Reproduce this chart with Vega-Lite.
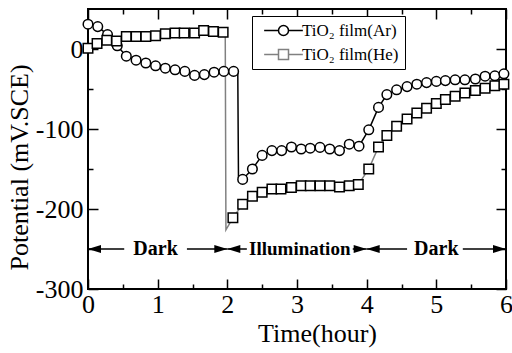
{
  "$schema": "https://vega.github.io/schema/vega-lite/v6.json",
  "width": 418,
  "height": 280,
  "autosize": "none",
  "padding": {"left": 88, "top": 9, "right": 6, "bottom": 64},
  "background": "white",
  "datasets": {
    "pot": [
      {"t": 0, "v": 31, "s": "TiO₂ film(Ar)", "m": 1},
      {"t": 0.14, "v": 28, "s": "TiO₂ film(Ar)", "m": 1},
      {"t": 0.28, "v": 18, "s": "TiO₂ film(Ar)", "m": 1},
      {"t": 0.42, "v": 4, "s": "TiO₂ film(Ar)", "m": 1},
      {"t": 0.55, "v": -9, "s": "TiO₂ film(Ar)", "m": 1},
      {"t": 0.69, "v": -14, "s": "TiO₂ film(Ar)", "m": 1},
      {"t": 0.83, "v": -17.5, "s": "TiO₂ film(Ar)", "m": 1},
      {"t": 0.97, "v": -21, "s": "TiO₂ film(Ar)", "m": 1},
      {"t": 1.11, "v": -24, "s": "TiO₂ film(Ar)", "m": 1},
      {"t": 1.25, "v": -26, "s": "TiO₂ film(Ar)", "m": 1},
      {"t": 1.39, "v": -28, "s": "TiO₂ film(Ar)", "m": 1},
      {"t": 1.53, "v": -33, "s": "TiO₂ film(Ar)", "m": 1},
      {"t": 1.67, "v": -32, "s": "TiO₂ film(Ar)", "m": 1},
      {"t": 1.81, "v": -29, "s": "TiO₂ film(Ar)", "m": 1},
      {"t": 1.95, "v": -28, "s": "TiO₂ film(Ar)", "m": 1},
      {"t": 2.09, "v": -28, "s": "TiO₂ film(Ar)", "m": 1},
      {"t": 2.15, "v": -29, "s": "TiO₂ film(Ar)", "m": 0},
      {"t": 2.16, "v": -160, "s": "TiO₂ film(Ar)", "m": 0},
      {"t": 2.22, "v": -163, "s": "TiO₂ film(Ar)", "m": 1},
      {"t": 2.36, "v": -150, "s": "TiO₂ film(Ar)", "m": 1},
      {"t": 2.5, "v": -133, "s": "TiO₂ film(Ar)", "m": 1},
      {"t": 2.64, "v": -127, "s": "TiO₂ film(Ar)", "m": 1},
      {"t": 2.78, "v": -127, "s": "TiO₂ film(Ar)", "m": 1},
      {"t": 2.92, "v": -122.5, "s": "TiO₂ film(Ar)", "m": 1},
      {"t": 3.06, "v": -125, "s": "TiO₂ film(Ar)", "m": 1},
      {"t": 3.19, "v": -124, "s": "TiO₂ film(Ar)", "m": 1},
      {"t": 3.33, "v": -123, "s": "TiO₂ film(Ar)", "m": 1},
      {"t": 3.47, "v": -125, "s": "TiO₂ film(Ar)", "m": 1},
      {"t": 3.61, "v": -127, "s": "TiO₂ film(Ar)", "m": 1},
      {"t": 3.75, "v": -119, "s": "TiO₂ film(Ar)", "m": 1},
      {"t": 3.89, "v": -121.5, "s": "TiO₂ film(Ar)", "m": 1},
      {"t": 4.03, "v": -101, "s": "TiO₂ film(Ar)", "m": 1},
      {"t": 4.17, "v": -73, "s": "TiO₂ film(Ar)", "m": 1},
      {"t": 4.29, "v": -57, "s": "TiO₂ film(Ar)", "m": 1},
      {"t": 4.43, "v": -51, "s": "TiO₂ film(Ar)", "m": 1},
      {"t": 4.58, "v": -47, "s": "TiO₂ film(Ar)", "m": 1},
      {"t": 4.72, "v": -44, "s": "TiO₂ film(Ar)", "m": 1},
      {"t": 4.86, "v": -42, "s": "TiO₂ film(Ar)", "m": 1},
      {"t": 5.0, "v": -40.5, "s": "TiO₂ film(Ar)", "m": 1},
      {"t": 5.13, "v": -39.5, "s": "TiO₂ film(Ar)", "m": 1},
      {"t": 5.27, "v": -38.5, "s": "TiO₂ film(Ar)", "m": 1},
      {"t": 5.41, "v": -38.5, "s": "TiO₂ film(Ar)", "m": 1},
      {"t": 5.56, "v": -37.5, "s": "TiO₂ film(Ar)", "m": 1},
      {"t": 5.7, "v": -34, "s": "TiO₂ film(Ar)", "m": 1},
      {"t": 5.84, "v": -33.5, "s": "TiO₂ film(Ar)", "m": 1},
      {"t": 5.97, "v": -31, "s": "TiO₂ film(Ar)", "m": 1},
      {"t": 0, "v": 1, "s": "TiO₂ film(He)", "m": 1},
      {"t": 0.13, "v": 7, "s": "TiO₂ film(He)", "m": 1},
      {"t": 0.27, "v": 11, "s": "TiO₂ film(He)", "m": 1},
      {"t": 0.41, "v": 10, "s": "TiO₂ film(He)", "m": 1},
      {"t": 0.55, "v": 15.5, "s": "TiO₂ film(He)", "m": 1},
      {"t": 0.69, "v": 15.5, "s": "TiO₂ film(He)", "m": 1},
      {"t": 0.83, "v": 15.5, "s": "TiO₂ film(He)", "m": 1},
      {"t": 0.97, "v": 16.5, "s": "TiO₂ film(He)", "m": 1},
      {"t": 1.11, "v": 19, "s": "TiO₂ film(He)", "m": 1},
      {"t": 1.25, "v": 20, "s": "TiO₂ film(He)", "m": 1},
      {"t": 1.38, "v": 20, "s": "TiO₂ film(He)", "m": 1},
      {"t": 1.53, "v": 20, "s": "TiO₂ film(He)", "m": 1},
      {"t": 1.66, "v": 23, "s": "TiO₂ film(He)", "m": 1},
      {"t": 1.8, "v": 22, "s": "TiO₂ film(He)", "m": 1},
      {"t": 1.94, "v": 21, "s": "TiO₂ film(He)", "m": 1},
      {"t": 1.97, "v": 20, "s": "TiO₂ film(He)", "m": 0},
      {"t": 1.98, "v": -226, "s": "TiO₂ film(He)", "m": 0},
      {"t": 2.08, "v": -211, "s": "TiO₂ film(He)", "m": 1},
      {"t": 2.22, "v": -194, "s": "TiO₂ film(He)", "m": 1},
      {"t": 2.36, "v": -184, "s": "TiO₂ film(He)", "m": 1},
      {"t": 2.5, "v": -179, "s": "TiO₂ film(He)", "m": 1},
      {"t": 2.64, "v": -175, "s": "TiO₂ film(He)", "m": 1},
      {"t": 2.77, "v": -175, "s": "TiO₂ film(He)", "m": 1},
      {"t": 2.92, "v": -173, "s": "TiO₂ film(He)", "m": 1},
      {"t": 3.06, "v": -171, "s": "TiO₂ film(He)", "m": 1},
      {"t": 3.19, "v": -171, "s": "TiO₂ film(He)", "m": 1},
      {"t": 3.33, "v": -171, "s": "TiO₂ film(He)", "m": 1},
      {"t": 3.47, "v": -171, "s": "TiO₂ film(He)", "m": 1},
      {"t": 3.61, "v": -172.5, "s": "TiO₂ film(He)", "m": 1},
      {"t": 3.75, "v": -171, "s": "TiO₂ film(He)", "m": 1},
      {"t": 3.88, "v": -169.5, "s": "TiO₂ film(He)", "m": 1},
      {"t": 4.03, "v": -150, "s": "TiO₂ film(He)", "m": 1},
      {"t": 4.17, "v": -122.5, "s": "TiO₂ film(He)", "m": 1},
      {"t": 4.29, "v": -108, "s": "TiO₂ film(He)", "m": 1},
      {"t": 4.43, "v": -96.5, "s": "TiO₂ film(He)", "m": 1},
      {"t": 4.58, "v": -87.5, "s": "TiO₂ film(He)", "m": 1},
      {"t": 4.72, "v": -80, "s": "TiO₂ film(He)", "m": 1},
      {"t": 4.86, "v": -74, "s": "TiO₂ film(He)", "m": 1},
      {"t": 5.0, "v": -68, "s": "TiO₂ film(He)", "m": 1},
      {"t": 5.13, "v": -63, "s": "TiO₂ film(He)", "m": 1},
      {"t": 5.27, "v": -59, "s": "TiO₂ film(He)", "m": 1},
      {"t": 5.41, "v": -55, "s": "TiO₂ film(He)", "m": 1},
      {"t": 5.56, "v": -52, "s": "TiO₂ film(He)", "m": 1},
      {"t": 5.7, "v": -49, "s": "TiO₂ film(He)", "m": 1},
      {"t": 5.84, "v": -46, "s": "TiO₂ film(He)", "m": 1},
      {"t": 5.97, "v": -44, "s": "TiO₂ film(He)", "m": 1}
    ],
    "segs": [
      {"a": 0, "b": 0.52},
      {"a": 1.42, "b": 2},
      {"a": 2, "b": 2.28},
      {"a": 3.8, "b": 4},
      {"a": 4, "b": 4.58},
      {"a": 5.38, "b": 6}
    ],
    "heads": [
      {"x": 0, "dir": "left"},
      {"x": 2, "dir": "right"},
      {"x": 2, "dir": "left"},
      {"x": 4, "dir": "right"},
      {"x": 4, "dir": "left"},
      {"x": 6, "dir": "right"}
    ],
    "labels": [
      {"x": 0.97, "txt": "Dark"},
      {"x": 3.04, "txt": "Illumination"},
      {"x": 5.0, "txt": "Dark"}
    ]
  },
  "resolve": {"axis": {"x": "independent", "y": "independent"}},
  "layer": [
    {
      "data": {"name": "pot"},
      "mark": {"type": "line", "strokeWidth": 1.5},
      "encoding": {
        "x": {"field": "t", "type": "quantitative", "scale": {"domain": [0, 6], "nice": false, "zero": false},
          "axis": {"orient": "bottom", "values": [0, 1, 2, 3, 4, 5, 6], "ticks": false, "labelPadding": 2, "title": "Time(hour)", "titleX": 229, "titleY": 52, "titleBaseline": "alphabetic"}},
        "y": {"field": "v", "type": "quantitative", "scale": {"domain": [-300, 50], "nice": false, "zero": false},
          "axis": {"orient": "left", "values": [-300, -200, -100, 0], "ticks": false, "labelPadding": 5,
            "labelExpr": "datum.value < 0 ? '-' + abs(datum.value) : '' + datum.value",
            "title": "Potential (mV.SCE)", "titleX": -61, "titleY": 158, "titleBaseline": "alphabetic"}},
        "color": {"field": "s", "type": "nominal",
          "scale": {"domain": ["TiO₂ film(Ar)", "TiO₂ film(He)"], "range": ["#000000", "#808080"]},
          "legend": {"title": null, "orient": "none", "legendX": 164, "legendY": 7,
            "strokeColor": "black", "fillColor": "white", "padding": 6,
            "labelFont": "Times New Roman, Liberation Serif, serif", "labelFontSize": 17, "labelColor": "black", "labelLimit": 300,
            "symbolSize": 100, "symbolOffset": 17, "labelOffset": 10, "rowPadding": 6,
            "encode": {"symbols": {"update": {
              "shape": {"signal": "datum.value == 'TiO₂ film(Ar)' ? 'M-3.87,0L-1,0A1,1,0,1,1,1,0A1,1,0,1,1,-1,0M1,0L3.87,0' : 'M-3.87,0L-1,0M-1,-1L1,-1L1,1L-1,1ZM1,0L3.87,0'"},
              "fill": {"value": "white"},
              "strokeWidth": {"value": 1.5},
              "opacity": {"value": 1}
            }}}}
        }
      }
    },
    {
      "data": {"name": "pot"},
      "transform": [{"filter": "datum.m == 1 && datum.s == 'TiO₂ film(Ar)'"}],
      "mark": {"type": "point", "shape": "circle", "filled": true, "fill": "white", "stroke": "black", "strokeWidth": 1.5, "opacity": 1, "size": 92},
      "encoding": {
        "x": {"field": "t", "type": "quantitative",
          "axis": {"orient": "bottom", "values": [0, 1, 2, 3, 4, 5, 6], "labels": false, "tickSize": -10, "title": null}},
        "y": {"field": "v", "type": "quantitative",
          "axis": {"orient": "left", "values": [-300, -200, -100, 0], "labels": false, "tickSize": -10, "title": null}}
      }
    },
    {
      "data": {"name": "pot"},
      "transform": [{"filter": "datum.m == 1 && datum.s == 'TiO₂ film(He)'"}],
      "mark": {"type": "point", "shape": "square", "filled": true, "fill": "white", "stroke": "black", "strokeWidth": 1.5, "opacity": 1, "size": 90},
      "encoding": {
        "x": {"field": "t", "type": "quantitative", "axis": null},
        "y": {"field": "v", "type": "quantitative", "axis": null}
      }
    },
    {
      "data": {"name": "segs"},
      "mark": {"type": "rule", "color": "black", "strokeWidth": 1.5},
      "encoding": {
        "x": {"field": "a", "type": "quantitative",
          "axis": {"orient": "bottom", "values": [0.5, 1.5, 2.5, 3.5, 4.5, 5.5], "labels": false, "tickSize": -5, "title": null}},
        "x2": {"field": "b"},
        "y": {"datum": -250, "type": "quantitative",
          "axis": {"orient": "left", "values": [-250, -150, -50], "labels": false, "tickSize": -5, "title": null}}
      }
    },
    {
      "data": {"name": "heads"},
      "transform": [{"filter": "datum.dir == 'left'"}],
      "mark": {"type": "point", "shape": "M0,0L2,-0.6L2,0.6Z", "filled": true, "color": "black", "opacity": 1, "size": 169},
      "encoding": {
        "x": {"field": "x", "type": "quantitative",
          "axis": {"orient": "top", "values": [0, 1, 2, 3, 4, 5, 6], "labels": false, "tickSize": -10, "title": null}},
        "y": {"datum": -250, "type": "quantitative",
          "axis": {"orient": "right", "values": [-300, -200, -100, 0], "labels": false, "tickSize": -10, "title": null}}
      }
    },
    {
      "data": {"name": "heads"},
      "transform": [{"filter": "datum.dir == 'right'"}],
      "mark": {"type": "point", "shape": "M0,0L-2,-0.6L-2,0.6Z", "filled": true, "color": "black", "opacity": 1, "size": 169},
      "encoding": {
        "x": {"field": "x", "type": "quantitative",
          "axis": {"orient": "top", "values": [0.5, 1.5, 2.5, 3.5, 4.5, 5.5], "labels": false, "tickSize": -5, "title": null}},
        "y": {"datum": -250, "type": "quantitative",
          "axis": {"orient": "right", "values": [-250, -150, -50], "labels": false, "tickSize": -5, "title": null}}
      }
    },
    {
      "data": {"name": "labels"},
      "transform": [{"filter": "datum.txt == 'Dark'"}],
      "mark": {"type": "text", "font": "Times New Roman, Liberation Serif, serif", "fontWeight": "bold", "fontSize": 20, "color": "black", "baseline": "middle"},
      "encoding": {
        "x": {"field": "x", "type": "quantitative", "axis": null},
        "y": {"datum": -250, "type": "quantitative", "axis": null},
        "text": {"field": "txt"}
      }
    },
    {
      "data": {"name": "labels"},
      "transform": [{"filter": "datum.txt == 'Illumination'"}],
      "mark": {"type": "text", "font": "Times New Roman, Liberation Serif, serif", "fontWeight": "bold", "fontSize": 19, "color": "black", "baseline": "middle"},
      "encoding": {
        "x": {"field": "x", "type": "quantitative", "axis": null},
        "y": {"datum": -250, "type": "quantitative", "axis": null},
        "text": {"field": "txt"}
      }
    }
  ],
  "config": {
    "view": {"stroke": "black", "strokeWidth": 2},
    "axis": {
      "grid": false, "domain": false, "tickColor": "black", "tickWidth": 1.5,
      "labelFont": "Times New Roman, Liberation Serif, serif", "labelFontSize": 26, "labelColor": "black",
      "titleFont": "Times New Roman, Liberation Serif, serif", "titleFontSize": 26, "titleFontWeight": "normal", "titleColor": "black",
      "labelFlush": false, "labelOverlap": false
    }
  }
}
